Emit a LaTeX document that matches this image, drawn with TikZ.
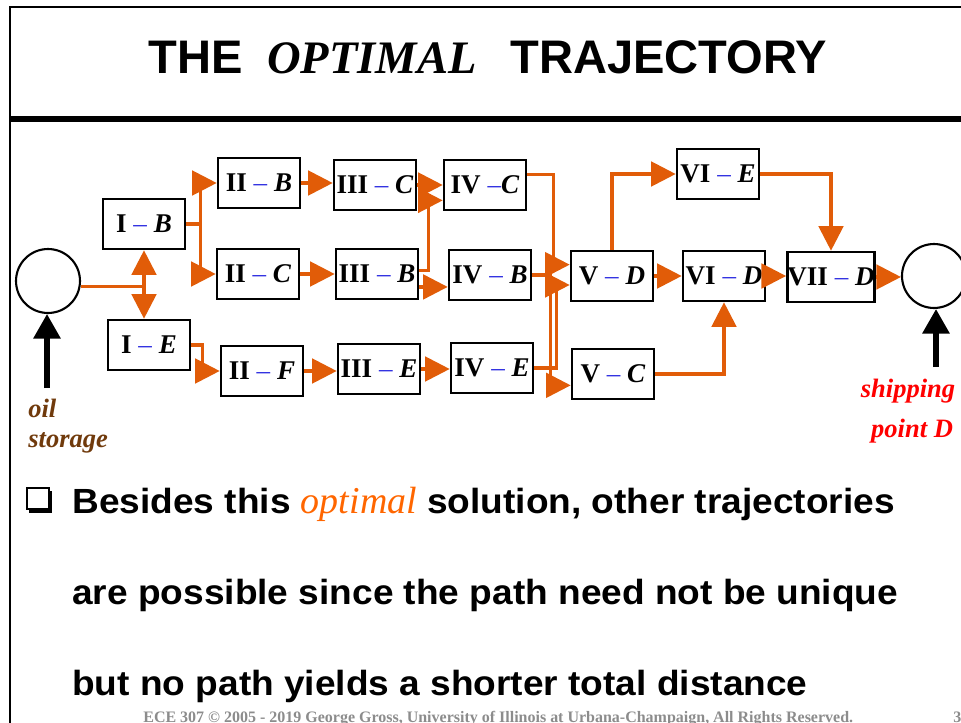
\documentclass[tikz,border=0pt]{standalone}
\usepackage{fontspec}
\setmainfont{Liberation Serif}
\newfontfamily\headfont{Liberation Sans}
\newfontfamily\bodyfont{Liberation Sans}[FakeStretch=1.06]
\usepackage{tikz}
\usetikzlibrary{arrows.meta}
\definecolor{floworange}{RGB}{225,92,8}
\definecolor{optorange}{RGB}{255,102,0}
\definecolor{dashblue}{RGB}{50,50,225}
\definecolor{oilbrown}{RGB}{112,58,12}
\definecolor{shipred}{RGB}{255,0,0}
\definecolor{footgray}{RGB}{140,140,140}
\newcommand{\stagelabel}[2]{#1 {\color{dashblue}\mdseries --} \textit{#2}}
\tikzset{
  diag_text/.style = {inner sep=0pt, anchor=base west},
  stage_node/.style = {rectangle, draw=black, line width=1.5pt, inner sep=0pt,
    minimum width=1.64cm, minimum height=1cm,
    font=\fontsize{15.4}{18}\selectfont\bfseries},% un etat du trajet
  end_node/.style = {circle, draw=black, line width=1.2pt,
    minimum size=1.28cm},% stockage / livraison
  flow_line/.style = {draw=floworange, line width=1.8pt,
    >={Triangle[length=14pt,width=14pt]}},
  flow/.style = {flow_line, ->},
  feed_arrow/.style = {draw=black, line width=2.9pt,
    -{Triangle[length=14pt,width=15pt]}},
  label_oil/.style = {diag_text, text=oilbrown,
    font=\fontsize{15.1}{18}\selectfont\bfseries\itshape},
  label_ship/.style = {diag_text, anchor=base, text=shipred,
    font=\fontsize{15.1}{18}\selectfont\bfseries\itshape},
  head_text/.style = {diag_text, font=\headfont\fontsize{26.8}{30}\selectfont\bfseries},
  body_text/.style = {diag_text, font=\bodyfont\fontsize{19.9}{24}\selectfont\bfseries}
}
\begin{document}
\begin{tikzpicture}[x=0.02cm, y=-0.02cm]
  \useasboundingbox (0,0) rectangle (961,723);
  % frame
  \draw[line width=1.2pt] (10,723) -- (10,7) -- (961,7);
  \draw[line width=3pt] (10,119) -- (961,119);
  % title
  \node[head_text] (ttl_the) at (148,74) {THE};
  \node[diag_text, font=\fontsize{26.5}{32}\selectfont\bfseries\itshape] (ttl_opt) at (267,74) {OPTIMAL};
  \node[head_text] (ttl_traj) at (510,74) {TRAJECTORY};

  % stages
  \node[end_node] (src) at (48,281) {};
  \node[end_node] (dst) at (934,276) {};
  \node[stage_node] (IB) at (144,224) {\stagelabel{I}{B}};
  \node[stage_node] (IE) at (149,345) {\stagelabel{I}{E}};
  \node[stage_node] (IIB) at (259,183) {\stagelabel{II}{B}};
  \node[stage_node] (IIC) at (258,274) {\stagelabel{II}{C}};
  \node[stage_node] (IIF) at (262,371) {\stagelabel{II}{F}};
  \node[stage_node] (IIIC) at (375,185) {\stagelabel{III}{C}};
  \node[stage_node] (IIIB) at (377,274) {\stagelabel{III}{B}};
  \node[stage_node] (IIIE) at (379,369) {\stagelabel{III}{E}};
  \node[stage_node] (IVC) at (485,185) {IV {\color{dashblue}\mdseries --}\textit{C}};
  \node[stage_node] (IVB) at (490,275) {\stagelabel{IV}{B}};
  \node[stage_node] (IVE) at (492,368) {\stagelabel{IV}{E}};
  \node[stage_node] (VD) at (612,276) {\stagelabel{V}{D}};
  \node[stage_node] (VC) at (613,374) {\stagelabel{V}{C}};
  \node[stage_node] (VIE) at (718,174) {\stagelabel{VI}{E}};
  \node[stage_node] (VID) at (724,276) {\stagelabel{VI}{D}};
  \node[stage_node] (VIID) at (831,277) {\stagelabel{VII}{D}};

  % connectors
  \draw[flow_line] (src.-10) -- (src.-10 -| IB.south);
  \draw[flow_line, <->] (IB.south) -- (IB.south |- IE.north);
  \draw[flow] (IB.east) -- ++(14,0) coordinate (ib_fork) |- (IIB.west);
  \draw[flow] (ib_fork) |- (IIC.west);
  \draw[flow] (IE.east) -- ++(11,0) |- (IIF.west);
  \draw[flow] (IIB.east) -- (IIB.east -| IIIC.west);
  \draw[flow] (IIC.east) -- (IIC.east -| IIIB.west);
  \draw[flow] (IIF.east) -- (IIF.east -| IIIE.west);
  \draw[flow] (IIIC.east) -- (IIIC.east -| IVC.west);
  \draw[flow] (IIIB.5) -- ++(9,0) |- (IVC.200);
  \draw[flow] (IIIB.-17) -- (IIIB.-17 -| IVB.west);
  \draw[flow] (IIIE.east) -- (IIIE.east -| IVE.west);
  \draw[flow] (IVC.14) -- ++(26,0) |- (VD.165);
  \draw[flow] (IVB.east) -- ++(18,0) |- (VC.195);
  \draw[flow] (IVE.east) -- ++(22,0) |- (VD.192);
  \draw[flow] (VD.north) |- (VIE.west);
  \draw[flow] (VD.east) -- (VID.west);
  \draw[flow] (VC.east) -| (VID.south);
  \draw[flow] (VIE.east) -| (VIID.north);
  \draw[flow] (VID.east) -- (VID.east -| VIID.west);
  \draw[flow] (VIID.east) -- (VIID.east -| dst.west);

  % feed arrows and labels
  \coordinate (oil_foot) at (47,388);
  \coordinate (ship_foot) at (936,367);
  \draw[feed_arrow] (oil_foot) -- (oil_foot |- src.south);
  \draw[feed_arrow] (ship_foot) -- (ship_foot |- dst.south);
  \node[label_oil] (oil_a) at (28,417) {oil};
  \node[label_oil] (oil_b) at (28,447) {storage};
  \node[label_ship] (ship_a) at (908,397) {shipping};
  \node[label_ship] (ship_b) at (912,437) {point D};

  % bullet text
  \draw[line width=0.9pt] (27,488) rectangle (49,509);
  \fill (29,509) rectangle (52,513);
  \fill (49,491) rectangle (52,513);
  \node[body_text] (line_a) at (72,513) {Besides this
    {\color{optorange}\normalfont\itshape\fontsize{21.6}{24}\selectfont optimal}
    solution, other trajectories};
  \node[body_text] (line_b) at (72,604) {are possible since the path need not be unique};
  \node[body_text] (line_c) at (72,695) {but no path yields a shorter total distance};

  % footer
  \node[diag_text, text=footgray, font=\fontsize{9.1}{11}\selectfont\bfseries] (foot) at (143,722)
    {ECE 307 \textcopyright{} 2005 - 2019 George Gross, University of Illinois at Urbana-Champaign, All Rights Reserved.};
  \node[diag_text, text=footgray, font=\fontsize{9.1}{11}\selectfont\bfseries] (pg_no) at (953,722) {3};
\end{tikzpicture}
\end{document}
